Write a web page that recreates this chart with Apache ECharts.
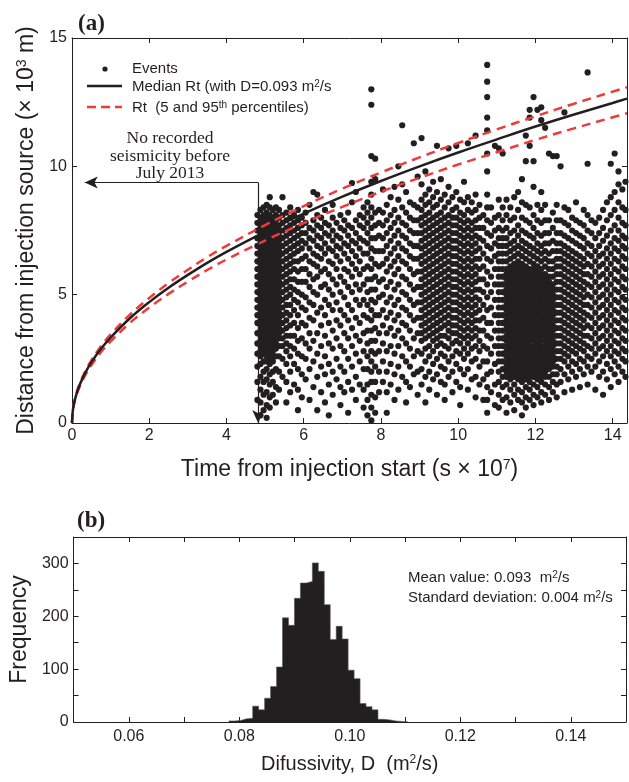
<!DOCTYPE html>
<html><head><meta charset="utf-8">
<script src="https://cdn.jsdelivr.net/npm/echarts@6/dist/echarts.min.js"></script>
<style>html,body{margin:0;padding:0;background:#fff}#c{width:629px;height:782px}</style>
</head><body><div id="c"></div>
<script>
// ---------- data ----------
const curveT  = [0,0.02,0.05,0.1,0.2,0.35,0.5,0.75,1,1.5,2,2.5,3,3.5,4,5,6,7,8,9,10,11,12,13,14,14.37];
const medianR = [0,0.47,0.745,1.05,1.49,1.97,2.36,2.89,3.33,4.08,4.71,5.27,5.77,6.24,6.67,7.45,8.16,8.82,9.43,10.0,10.54,11.05,11.55,12.02,12.47,12.64];
const upperR  = [0,0.49,0.77,1.09,1.54,2.04,2.44,2.99,3.45,4.22,4.87,5.45,5.97,6.46,6.90,7.71,8.45,9.13,9.76,10.35,10.91,11.44,11.95,12.44,12.91,13.08];
const lowerR  = [0,0.45,0.71,1.00,1.42,1.88,2.25,2.76,3.18,3.90,4.50,5.03,5.51,5.96,6.37,7.11,7.79,8.42,9.01,9.55,10.07,10.55,11.03,11.48,11.91,12.07];

// event columns: [time (s x 1e7), [distances (x 1e3 m)]]
const eventColumns = [
[4.80,[0.9,1.6,2.2,2.7,3.1,3.5,3.9,4.2,4.5,4.8,5.1,5.4,5.7,6.0,6.3,6.6,6.9,7.2,7.5,7.8,8.1]],
[4.88,[0.3,0.8,1.3,1.8,2.3,2.6,2.8,3.0,3.2,3.4,3.6,3.8,4.0,4.2,4.4,4.6,4.8,5.0,5.2,5.4,5.6,5.8,6.0,6.2,6.4,6.6,6.8,7.0,7.2,7.4,7.6,7.8,8.0,8.3]],
[4.96,[0.5,1.1,1.6,2.0,2.4,2.7,2.9,3.1,3.3,3.5,3.7,3.9,4.1,4.3,4.5,4.7,4.9,5.1,5.3,5.5,5.7,5.9,6.1,6.3,6.5,6.7,6.9,7.1,7.3,7.5,7.7,7.9,8.1,8.4]],
[5.04,[0.2,0.7,1.2,1.7,2.1,2.4,2.6,2.8,3.0,3.2,3.4,3.6,3.8,4.0,4.2,4.4,4.6,4.8,5.0,5.2,5.4,5.6,5.8,6.0,6.2,6.4,6.6,6.8,7.0,7.2,7.4,7.6,7.8,8.0,8.2,8.5]],
[5.12,[0.6,1.0,1.5,1.9,2.3,2.5,2.7,2.9,3.1,3.3,3.5,3.7,3.9,4.1,4.3,4.5,4.7,4.9,5.1,5.3,5.5,5.7,5.9,6.1,6.3,6.5,6.7,6.9,7.1,7.3,7.5,7.7,7.9,8.1,8.4,8.8]],
[5.20,[1.1,1.6,2.0,2.4,2.6,2.8,3.0,3.2,3.4,3.6,3.8,4.0,4.2,4.4,4.6,4.8,5.0,5.2,5.4,5.6,5.8,6.0,6.2,6.4,6.6,6.8,7.0,7.2,7.4,7.6,7.8,8.0,8.3]],
[5.28,[0.8,1.4,2.1,2.6,2.9,3.1,3.3,3.5,3.7,3.9,4.1,4.3,4.5,4.7,4.9,5.1,5.3,5.5,5.7,5.9,6.1,6.3,6.5,6.7,6.9,7.1,7.3,7.5,7.7,7.9,8.1,8.4]],
[5.36,[1.3,2.0,2.6,3.0,3.3,3.5,3.7,3.9,4.1,4.3,4.5,4.7,4.9,5.1,5.3,5.5,5.7,5.9,6.1,6.3,6.5,6.7,6.9,7.1,7.3,7.5,7.7,8.0,8.3]],
[5.45,[1.8,2.5,3.0,3.3,3.6,3.9,4.2,4.5,4.8,5.1,5.4,5.7,6.0,6.3,6.6,6.9,7.2,7.5,7.8,8.1,8.8]],
[5.55,[0.8,1.6,2.3,2.8,3.1,3.4,3.7,4.0,4.3,4.6,4.9,5.2,5.5,5.8,6.1,6.4,6.7,7.0,7.3,7.6,7.9,8.2]],
[5.65,[1.2,2.0,2.6,3.0,3.4,3.8,4.2,4.6,5.0,5.3,5.6,5.9,6.2,6.5,6.8,7.1,7.4,7.7,8.0,8.4]],
[5.75,[1.5,2.3,2.9,3.4,3.9,4.4,4.8,5.2,5.6,6.0,6.3,6.6,6.9,7.2,7.5,7.8,8.1]],
[5.85,[0.5,1.3,2.1,2.7,3.2,3.7,4.2,4.7,5.1,5.5,5.9,6.3,6.7,7.0,7.3,7.6,7.9,8.3]],
[5.95,[1.0,1.9,2.6,3.3,3.9,4.5,5.0,5.5,6.0,6.4,6.8,7.1,7.4,7.7,8.0]],
[6.05,[1.7,2.5,3.1,3.8,4.4,4.9,5.5,6.0,6.5,7.0,7.4,7.8,8.2]],
[6.15,[0.9,2.1,2.9,3.5,4.1,4.7,5.3,5.8,6.3,6.8,7.2,7.6,8.5]],
[6.25,[1.4,2.4,3.2,4.0,4.6,5.1,5.6,6.2,6.6,7.1,7.5,7.9,9.0]],
[6.35,[0.5,1.8,2.7,3.5,4.3,5.0,5.7,6.1,6.5,6.9,7.3,7.7,8.1,8.9]],
[6.45,[1.2,2.2,3.0,3.8,4.5,5.3,5.9,6.4,6.8,7.2,7.6,8.0]],
[6.55,[0.8,1.9,2.6,3.4,4.2,4.8,5.4,6.0,6.6,7.0,7.4,7.8,8.3]],
[6.65,[0.3,1.5,2.3,3.1,3.9,4.6,5.2,5.8,6.3,6.8,7.3,7.7]],
[6.75,[1.1,2.0,2.9,3.6,4.4,5.0,5.6,6.2,6.7,7.1,7.5,8.0,8.5]],
[6.85,[1.7,2.5,3.3,4.0,4.7,5.4,6.0,6.5,6.9,7.3,7.8]],
[6.95,[0.7,1.4,2.2,3.0,3.8,4.4,5.1,5.7,6.3,6.8,7.2,7.6,8.1]],
[7.05,[1.2,2.0,2.8,3.5,4.2,4.9,5.5,6.0,6.6,7.0,7.5,7.9]],
[7.15,[0.4,1.6,2.5,3.3,4.0,4.6,5.3,5.9,6.4,6.9,7.3,7.7,8.2]],
[7.25,[1.3,2.2,3.0,3.7,4.4,5.1,5.7,6.2,6.7,7.1,7.6,8.6,9.35]],
[7.35,[0.9,1.8,2.7,3.4,4.1,4.8,5.4,6.0,6.5,7.0,7.4,7.9,9.0]],
[7.45,[1.5,2.4,3.2,3.9,4.6,5.2,5.8,6.3,6.8,7.2,7.7,8.1]],
[7.55,[0.6,1.3,2.1,2.8,3.5,4.2,4.8,5.4,6.0,6.6,7.1,7.6,8.0,8.4]],
[7.65,[0.3,0.9,1.5,2.1,2.6,3.1,3.6,4.1,4.6,5.1,5.6,6.1,6.6,7.0,7.4,7.8,8.2,8.6]],
[7.75,[0.1,0.6,1.1,1.6,2.0,2.4,2.8,3.2,3.6,4.0,4.4,4.8,5.2,5.6,6.0,6.4,6.8,7.2,7.6,8.0,8.4,8.9,9.4,10.4,12.4,13.0]],
[7.85,[0.4,1.0,1.6,2.2,2.7,3.2,3.7,4.2,4.7,5.2,5.7,6.2,6.7,7.2,7.7,8.2,9.5,10.3]],
[7.95,[1.2,2.0,2.8,3.5,4.2,4.9,5.5,6.1,6.7,7.3,7.8,8.3]],
[8.05,[1.6,2.4,3.1,3.8,4.4,5.0,5.6,6.2,6.7,7.2,7.7,8.2,9.1]],
[8.15,[0.4,1.2,2.0,2.8,3.5,4.1,4.7,5.3,5.9,6.4,6.9,7.4,7.9,8.5]],
[8.25,[1.5,2.3,3.0,3.7,4.3,4.9,5.5,6.1,6.6,7.1,7.6,8.1,8.8]],
[8.35,[0.9,1.9,2.7,3.4,4.0,4.6,5.2,5.8,6.3,6.8,7.3,7.8,8.3,9.2]],
[8.45,[1.3,2.2,3.0,3.6,4.2,4.8,5.4,6.0,6.5,7.0,7.5,8.0,8.7,10.0]],
[8.55,[1.8,2.6,3.3,3.9,4.5,5.1,5.7,6.3,6.8,7.3,7.8,8.4,9.3,11.6]],
[8.65,[0.8,1.6,2.4,3.1,3.8,4.4,5.0,5.6,6.2,6.7,7.2,7.7,8.2,9.0]],
[8.75,[1.4,2.2,2.9,3.6,4.2,4.8,5.4,6.0,6.5,7.0,7.5,8.0,8.6]],
[8.85,[1.9,2.6,3.3,4.0,4.6,5.2,5.8,6.4,6.9,7.4,7.9,8.5,10.9]],
[8.95,[1.1,2.0,2.8,3.5,4.1,4.7,5.3,5.9,6.4,6.9,7.4,7.9,8.4,9.6]],
[9.05,[1.5,2.1,2.7,3.2,3.5,3.8,4.1,4.4,4.7,5.0,5.3,5.6,5.9,6.2,6.5,6.8,7.1,7.4,7.7,8.0,8.3,8.7,9.3,11.1]],
[9.15,[0.8,1.8,2.4,2.9,3.3,3.6,3.9,4.2,4.5,4.8,5.1,5.4,5.7,6.0,6.3,6.6,6.9,7.2,7.5,7.8,8.1,8.5,8.9,9.8]],
[9.25,[1.3,2.0,2.6,3.0,3.4,3.7,4.0,4.3,4.6,4.9,5.2,5.5,5.8,6.1,6.4,6.7,7.0,7.3,7.6,7.9,8.2,8.6,9.1]],
[9.35,[1.7,2.3,2.8,3.2,3.5,3.8,4.1,4.4,4.7,5.0,5.3,5.6,5.9,6.2,6.5,6.8,7.1,7.4,7.7,8.0,8.4,8.8,9.4]],
[9.45,[1.1,1.9,2.5,3.0,3.3,3.6,3.9,4.2,4.5,4.8,5.1,5.4,5.7,6.0,6.3,6.6,6.9,7.2,7.5,7.8,8.1,8.5,9.0,10.8]],
[9.55,[1.6,2.2,2.7,3.1,3.4,3.7,4.0,4.3,4.6,4.9,5.2,5.5,5.8,6.1,6.4,6.7,7.0,7.3,7.6,7.9,8.2,8.7,9.5]],
[9.65,[0.9,1.5,2.1,2.6,3.0,3.4,3.8,4.1,4.4,4.7,5.0,5.3,5.6,5.9,6.2,6.5,6.8,7.1,7.4,7.7,8.0,8.4,8.9]],
[9.75,[1.8,2.4,2.9,3.3,3.6,3.9,4.2,4.5,4.8,5.1,5.4,5.7,6.0,6.3,6.6,6.9,7.2,7.5,7.8,8.1,8.6,9.2,10.7]],
[9.85,[1.2,2.0,2.6,3.1,3.5,3.8,4.1,4.4,4.7,5.0,5.3,5.6,5.9,6.2,6.5,6.8,7.1,7.4,7.7,8.0,8.3,8.8]],
[9.95,[1.6,2.3,2.8,3.2,3.5,3.8,4.1,4.4,4.7,5.0,5.3,5.6,5.9,6.2,6.5,6.8,7.1,7.4,7.7,8.0,8.4,9.0,10.8]],
[10.05,[0.7,1.4,2.1,2.7,3.1,3.4,3.7,4.0,4.3,4.6,4.9,5.2,5.5,5.8,6.1,6.4,6.7,7.0,7.3,7.6,7.9,8.2,8.7]],
[10.15,[1.9,2.5,2.9,3.3,3.6,3.9,4.2,4.5,4.8,5.1,5.4,5.7,6.0,6.3,6.6,6.9,7.2,7.5,7.8,8.1,8.6,9.4]],
[10.25,[1.3,2.1,2.7,3.1,3.4,3.7,4.0,4.3,4.6,4.9,5.2,5.5,5.8,6.1,6.4,6.7,7.0,7.3,7.6,7.9,8.3,8.8,10.9]],
[10.35,[1.7,2.4,2.9,3.3,3.6,3.9,4.2,4.5,4.8,5.1,5.4,5.7,6.0,6.3,6.6,6.9,7.2,7.5,7.8,8.2,8.6]],
[10.45,[1.0,1.8,2.5,3.0,3.4,3.7,4.0,4.3,4.6,4.9,5.2,5.5,5.8,6.1,6.4,6.7,7.0,7.3,7.6,7.9,8.3,8.9,11.2]],
[10.55,[1.5,2.2,2.8,3.2,3.6,4.0,4.4,4.8,5.2,5.6,6.0,6.4,6.8,7.2,7.6,8.0,8.5]],
[10.65,[0.9,1.7,2.4,3.0,3.6,4.1,4.6,5.1,5.6,6.1,6.6,7.1,7.6,8.1]],
[10.75,[0.4,0.9,1.4,1.9,2.4,2.9,3.4,3.9,4.4,4.9,5.4,5.9,6.4,6.9,7.4,7.9,8.4,8.9,9.8,10.5,11.4,11.9,12.7,13.3,13.95]],
[10.85,[1.2,2.0,2.7,3.3,3.9,4.5,5.1,5.7,6.3,6.8,7.3,7.8,8.4]],
[10.95,[0.7,1.5,2.3,3.0,3.6,4.2,4.8,5.4,6.0,6.5,7.0,7.5,8.0,10.8]],
[11.05,[0.6,1.1,1.6,2.0,2.4,2.7,3.0,3.3,3.6,3.9,4.2,4.5,4.8,5.1,5.4,5.7,6.0,6.3,6.6,6.9,7.2,7.6,8.1,8.7,10.7]],
[11.15,[0.9,1.4,1.8,2.1,2.4,2.7,3.0,3.3,3.6,3.9,4.2,4.5,4.8,5.1,5.4,5.7,6.0,6.3,6.6,6.9,7.2,7.5,7.9,8.4,10.5]],
[11.25,[0.4,1.0,1.5,1.8,2.0,2.2,2.4,2.6,2.8,3.0,3.2,3.4,3.6,3.8,4.0,4.2,4.4,4.6,4.8,5.0,5.2,5.4,5.6,5.8,6.0,6.3,6.6,6.9,7.2,7.6,8.1,8.7]],
[11.35,[0.8,1.3,1.7,1.9,2.1,2.3,2.5,2.7,2.9,3.1,3.3,3.5,3.7,3.9,4.1,4.3,4.5,4.7,4.9,5.1,5.3,5.5,5.7,5.9,6.1,6.4,6.7,7.0,7.4,7.9,8.4]],
[11.45,[0.5,1.1,1.5,1.8,2.0,2.2,2.4,2.6,2.8,3.0,3.2,3.4,3.6,3.8,4.0,4.2,4.4,4.6,4.8,5.0,5.2,5.4,5.6,5.8,6.0,6.2,6.5,6.8,7.1,7.5,8.0,8.8]],
[11.55,[0.9,1.3,1.7,1.9,2.1,2.3,2.5,2.7,2.9,3.1,3.3,3.5,3.7,3.9,4.1,4.3,4.5,4.7,4.9,5.1,5.3,5.5,5.7,5.9,6.1,6.3,6.6,6.9,7.3,7.7,8.3,9.0]],
[11.65,[0.3,0.8,1.2,1.6,1.8,2.0,2.2,2.4,2.6,2.8,3.0,3.2,3.4,3.6,3.8,4.0,4.2,4.4,4.6,4.8,5.0,5.2,5.4,5.6,5.8,6.0,6.2,6.5,6.8,7.1,7.5,8.0,8.6,9.5]],
[11.75,[0.6,1.0,1.4,1.7,1.9,2.1,2.3,2.5,2.7,2.9,3.1,3.3,3.5,3.7,3.9,4.1,4.3,4.5,4.7,4.9,5.1,5.3,5.5,5.7,5.9,6.1,6.4,6.7,7.0,7.4,7.9,8.5,10.2,11.2]],
[11.85,[0.9,1.3,1.6,1.8,2.0,2.2,2.4,2.6,2.8,3.0,3.2,3.4,3.6,3.8,4.0,4.2,4.4,4.6,4.8,5.0,5.2,5.4,5.6,5.8,6.0,6.3,6.6,6.9,7.3,7.8,8.4,10.8,11.9,12.2]],
[11.95,[0.7,1.1,1.5,1.8,2.0,2.2,2.4,2.6,2.8,3.0,3.2,3.4,3.6,3.8,4.0,4.2,4.4,4.6,4.8,5.0,5.2,5.4,5.6,5.8,6.0,6.2,6.5,6.8,7.2,7.6,8.1,9.2,10.2,12.7]],
[12.05,[1.0,1.4,1.7,1.9,2.1,2.3,2.5,2.7,2.9,3.1,3.3,3.5,3.7,3.9,4.1,4.3,4.5,4.7,4.9,5.1,5.3,5.5,5.7,5.9,6.1,6.4,6.7,7.0,7.4,7.9,8.5,12.2]],
[12.15,[0.8,1.2,1.6,1.8,2.0,2.2,2.4,2.6,2.8,3.0,3.2,3.4,3.6,3.8,4.0,4.2,4.4,4.6,4.8,5.0,5.2,5.4,5.6,5.8,6.0,6.3,6.6,6.9,7.3,7.8,8.3,9.0,11.8,12.3]],
[12.25,[1.1,1.5,1.8,2.0,2.2,2.4,2.6,2.8,3.0,3.2,3.4,3.6,3.8,4.0,4.2,4.4,4.6,4.8,5.0,5.2,5.4,5.6,5.8,6.1,6.4,6.7,7.0,7.4,7.9,8.5,11.5]],
[12.35,[0.9,1.4,1.8,2.1,2.3,2.5,2.7,2.9,3.1,3.3,3.5,3.7,3.9,4.1,4.3,4.5,4.7,4.9,5.1,5.3,5.5,5.7,6.0,6.3,6.6,7.0,7.4,7.9,10.5]],
[12.45,[1.2,1.6,1.9,2.2,2.4,2.6,2.8,3.0,3.2,3.4,3.6,3.8,4.0,4.2,4.4,4.6,4.8,5.0,5.2,5.4,5.7,6.0,6.3,6.7,7.1,7.6,8.2,10.4]],
[12.55,[1.0,1.5,1.9,2.2,2.5,2.8,3.1,3.4,3.7,4.0,4.3,4.6,4.9,5.2,5.5,5.8,6.1,6.4,6.7,7.0,7.4,7.9,8.5,10.4]],
[12.65,[1.6,2.1,2.5,2.8,3.1,3.4,3.7,4.0,4.3,4.6,4.9,5.2,5.5,5.8,6.1,6.4,6.7,7.0,7.4,7.9,10.0]],
[12.75,[1.2,1.9,2.4,2.7,3.0,3.3,3.6,3.9,4.2,4.5,4.8,5.1,5.4,5.7,6.0,6.3,6.6,6.9,7.3,7.8,8.4,12.1]],
[12.85,[1.7,2.2,2.6,2.9,3.2,3.5,3.8,4.1,4.4,4.7,5.0,5.3,5.6,5.9,6.2,6.5,6.8,7.2,7.7,8.3]],
[12.95,[1.3,2.0,2.4,2.8,3.1,3.4,3.7,4.0,4.3,4.6,4.9,5.2,5.5,5.8,6.1,6.4,6.7,7.1,7.5,8.0]],
[13.05,[1.8,2.3,2.7,3.0,3.3,3.6,3.9,4.2,4.5,4.8,5.1,5.4,5.7,6.0,6.3,6.6,7.0,7.4,7.9,8.6]],
[13.15,[1.4,2.1,2.5,2.9,3.2,3.5,3.8,4.1,4.4,4.7,5.0,5.3,5.6,5.9,6.2,6.5,6.9,7.3,7.8]],
[13.25,[1.9,2.4,2.8,3.1,3.4,3.7,4.0,4.3,4.6,4.9,5.2,5.5,5.8,6.1,6.4,6.8,7.2,7.7,8.3]],
[13.35,[1.5,2.2,2.6,3.0,3.4,3.8,4.2,4.6,5.0,5.4,5.8,6.2,6.6,7.0,7.5,8.1,10.1,13.66]],
[13.45,[2.0,2.5,2.9,3.3,3.7,4.1,4.5,4.9,5.3,5.7,6.1,6.5,6.9,7.4,7.9]],
[13.55,[1.3,2.2,2.7,3.1,3.5,3.9,4.3,4.7,5.1,5.5,5.9,6.3,6.7,7.2,7.8]],
[13.65,[1.8,2.4,2.9,3.3,3.7,4.1,4.5,4.9,5.3,5.7,6.1,6.5,6.9,7.4,8.0]],
[13.75,[1.1,2.0,2.6,3.0,3.4,3.8,4.2,4.6,5.0,5.4,5.8,6.2,6.6,7.1,7.6,8.3]],
[13.85,[1.7,2.3,2.8,3.2,3.6,4.0,4.4,4.8,5.2,5.6,6.0,6.4,6.8,7.3,7.9,8.6]],
[13.95,[1.4,2.1,2.6,3.0,3.4,3.8,4.2,4.6,5.0,5.4,5.8,6.2,6.6,7.0,7.5,8.1,8.8,10.1]],
[14.05,[1.9,2.4,2.8,3.2,3.6,4.0,4.4,4.8,5.2,5.6,6.0,6.4,6.8,7.2,7.7,8.3,9.0,10.5]],
[14.15,[1.6,2.2,2.7,3.1,3.5,3.9,4.3,4.7,5.1,5.5,5.9,6.3,6.7,7.1,7.5,8.0,8.6,9.3,9.8]],
[14.25,[2.0,2.5,2.9,3.3,3.7,4.1,4.5,4.9,5.3,5.7,6.1,6.5,6.9,7.3,7.8,8.4,9.1]],
[14.33,[1.8,2.4,2.8,3.2,3.6,4.0,4.4,4.8,5.2,5.6,6.0,6.4,6.8,7.2,7.7,8.3,9.4]]
];

// histogram of diffusivity
const binStart = 0.0781;
const binWidth = 0.00108;
const binCounts = [2,3,6,7,30,23,45,67,104,197,183,234,263,266,301,285,222,156,181,157,98,82,35,29,23,5,4,2,1,1];

// tick labels
const timeTickLabels = ['0','2','4','6','8','10','12','14'];
const distTickLabels = ['0','5','10','15'];
const diffTickLabels = ['0.06','0.08','0.10','0.12','0.14'];
const freqTickLabels = ['0','100','200','300'];

// arrow annotation (time, distance)
const noSeismicityCorner = [4.82, 9.37];
const noSeismicityLeftEnd = 0.33;

// ---------- chart ----------
const ink = '#231f20', red = '#ee3a3a';
const SANS = '"Liberation Sans", Arial, Helvetica, sans-serif';
const SERIF = '"Liberation Serif", "Times New Roman", serif';

const events = [];
eventColumns.forEach(([t, ys]) => ys.forEach(y => events.push([t, y])));
const zip = (xs, ys) => xs.map((x, i) => [x, ys[i]]);
// step outline of the histogram: left edge of each bin with its count, closed at the last edge
const histSteps = binCounts.map((c, i) => [binStart + i * binWidth, c]);
histSteps.push([binStart + binCounts.length * binWidth, 0]);

const tick = {show: true, inside: true, length: 5, lineStyle: {color: ink, width: 1}};
const axLine = {show: true, onZero: false, lineStyle: {color: ink, width: 1}};
const lab = {color: ink, fontSize: 16, fontFamily: SANS};
const nameStyle = sz => ({color: ink, fontSize: sz, fontFamily: SANS,
  rich: {sup: {fontSize: Math.round(sz * 0.62), fontFamily: SANS, color: ink, verticalAlign: 'top'}}});
const fmt = list => v => { const s = String(+v.toFixed(2)); return list.includes(s) ? s : ''; };
const fmt2 = list => v => { const s = v.toFixed(2); return list.includes(s) ? s : ''; };

const chart = echarts.init(document.getElementById('c'), null, {renderer: 'canvas'});
chart.setOption({
  animation: false,
  backgroundColor: '#fff',
  grid: [
    {left: 72, top: 38, width: 555, height: 385},
    {left: 71, top: 537, width: 556, height: 185}
  ],
  xAxis: [
    {gridIndex: 0, type: 'value', min: 0, max: 14.37, interval: 2, position: 'bottom',
     axisLine: axLine, axisTick: tick, splitLine: {show: false},
     axisLabel: {...lab, margin: 5, showMaxLabel: false, formatter: fmt(timeTickLabels)},
     name: 'Time from injection start (s × 10{sup|7})', nameLocation: 'middle', nameGap: 35, nameTextStyle: nameStyle(23)},
    {gridIndex: 0, type: 'value', min: 0, max: 14.37, interval: 2, position: 'top',
     axisLine: axLine, axisTick: tick, splitLine: {show: false}, axisLabel: {show: false}},
    {gridIndex: 1, type: 'value', min: 0.05, max: 0.15, interval: 0.01, position: 'bottom',
     axisLine: axLine, axisTick: tick, splitLine: {show: false},
     axisLabel: {...lab, margin: 7, formatter: fmt2(diffTickLabels)},
     name: 'Difussivity, D  (m{sup|2}/s)', nameLocation: 'middle', nameGap: 32, nameTextStyle: nameStyle(20)},
    {gridIndex: 1, type: 'value', min: 0.05, max: 0.15, interval: 0.01, position: 'top',
     axisLine: axLine, axisTick: tick, splitLine: {show: false}, axisLabel: {show: false}}
  ],
  yAxis: [
    {gridIndex: 0, type: 'value', min: 0, max: 15, interval: 5, position: 'left',
     axisLine: axLine, axisTick: tick, splitLine: {show: false},
     axisLabel: {...lab, margin: 5, formatter: fmt(distTickLabels)},
     name: 'Distance from injection source (× 10{sup|3} m)', nameLocation: 'middle', nameGap: 34, nameTextStyle: nameStyle(23)},
    {gridIndex: 0, type: 'value', min: 0, max: 15, interval: 5, position: 'right',
     axisLine: axLine, axisTick: tick, splitLine: {show: false}, axisLabel: {show: false}},
    {gridIndex: 1, type: 'value', min: 0, max: 350, interval: 50, position: 'left',
     axisLine: axLine, axisTick: tick, splitLine: {show: false},
     axisLabel: {...lab, margin: 5, formatter: fmt(freqTickLabels)},
     name: 'Frequency', nameLocation: 'middle', nameGap: 34, nameTextStyle: nameStyle(23)},
    {gridIndex: 1, type: 'value', min: 0, max: 350, interval: 50, position: 'right',
     axisLine: axLine, axisTick: tick, splitLine: {show: false}, axisLabel: {show: false}}
  ],
  series: [
    {name: 'Events', type: 'scatter', xAxisIndex: 0, yAxisIndex: 0, data: events,
     symbol: 'circle', symbolSize: 6.2, itemStyle: {color: ink, opacity: 1}, z: 2, silent: true},
    {name: 'Rt 95', type: 'line', xAxisIndex: 0, yAxisIndex: 0, data: zip(curveT, upperR),
     smooth: 0.4, showSymbol: false, lineStyle: {color: red, width: 2.5, type: [9, 6]}, z: 4, silent: true},
    {name: 'Rt 5', type: 'line', xAxisIndex: 0, yAxisIndex: 0, data: zip(curveT, lowerR),
     smooth: 0.4, showSymbol: false, lineStyle: {color: red, width: 2.5, type: [9, 6]}, z: 4, silent: true},
    {name: 'Median Rt', type: 'line', xAxisIndex: 0, yAxisIndex: 0, data: zip(curveT, medianR),
     smooth: 0.4, showSymbol: false, lineStyle: {color: ink, width: 2.5}, z: 5, silent: true,
     markLine: {silent: true, symbol: ['none', 'arrow'], symbolSize: [9, 13], label: {show: false},
       lineStyle: {color: ink, width: 1.2, type: 'solid'},
       data: [
         [{coord: noSeismicityCorner}, {coord: [noSeismicityCorner[0], 0]}],
         [{coord: noSeismicityCorner}, {coord: [noSeismicityLeftEnd, noSeismicityCorner[1]]}]
       ]}},
    {name: 'Histogram', type: 'line', xAxisIndex: 2, yAxisIndex: 2, data: histSteps, step: 'end',
     showSymbol: false, silent: true, lineStyle: {color: '#555', width: 0.6},
     areaStyle: {color: ink, opacity: 1}}
  ],
  graphic: [
    {type: 'text', left: 78, top: 13, style: {text: '(a)', font: 'bold 23px ' + SERIF, fill: ink}},
    {type: 'text', left: 77, top: 510, style: {text: '(b)', font: 'bold 23px ' + SERIF, fill: ink}},
    // legend
    {type: 'circle', shape: {cx: 105, cy: 69, r: 2.6}, style: {fill: ink}},
    {type: 'text', x: 132, y: 69, style: {text: 'Events', font: '15px ' + SANS, fill: ink, verticalAlign: 'middle'}},
    {type: 'line', shape: {x1: 87, y1: 86, x2: 122, y2: 86}, style: {stroke: ink, lineWidth: 2.5}},
    {type: 'text', x: 132, y: 87, style: {text: 'Median Rt (with D=0.093 m{sup|2}/s', font: '15px ' + SANS, fill: ink, verticalAlign: 'middle',
      rich: {sup: {font: '10px ' + SANS, fill: ink, verticalAlign: 'top'}}}},
    {type: 'line', shape: {x1: 87, y1: 107, x2: 122, y2: 107}, style: {stroke: red, lineWidth: 2.5, lineDash: [9, 5]}},
    {type: 'text', x: 132, y: 108, style: {text: 'Rt  (5 and 95{sup|th} percentiles)', font: '15px ' + SANS, fill: ink, verticalAlign: 'middle',
      rich: {sup: {font: '10px ' + SANS, fill: ink, verticalAlign: 'top'}}}},
    // annotation
    {type: 'text', x: 170, y: 130, style: {text: 'No recorded\nseismicity before\nJuly 2013', font: '17.5px ' + SERIF, fill: ink,
      align: 'center', verticalAlign: 'top', lineHeight: 17.5}},
    // histogram statistics
    {type: 'text', x: 408, y: 578, style: {text: 'Mean value: 0.093  m{sup|2}/s', font: '15px ' + SANS, fill: ink, verticalAlign: 'middle',
      rich: {sup: {font: '10px ' + SANS, fill: ink, verticalAlign: 'top'}}}},
    {type: 'text', x: 408, y: 598, style: {text: 'Standard deviation: 0.004 m{sup|2}/s', font: '15px ' + SANS, fill: ink, verticalAlign: 'middle',
      rich: {sup: {font: '10px ' + SANS, fill: ink, verticalAlign: 'top'}}}}
  ]
});
</script>
</body></html>
